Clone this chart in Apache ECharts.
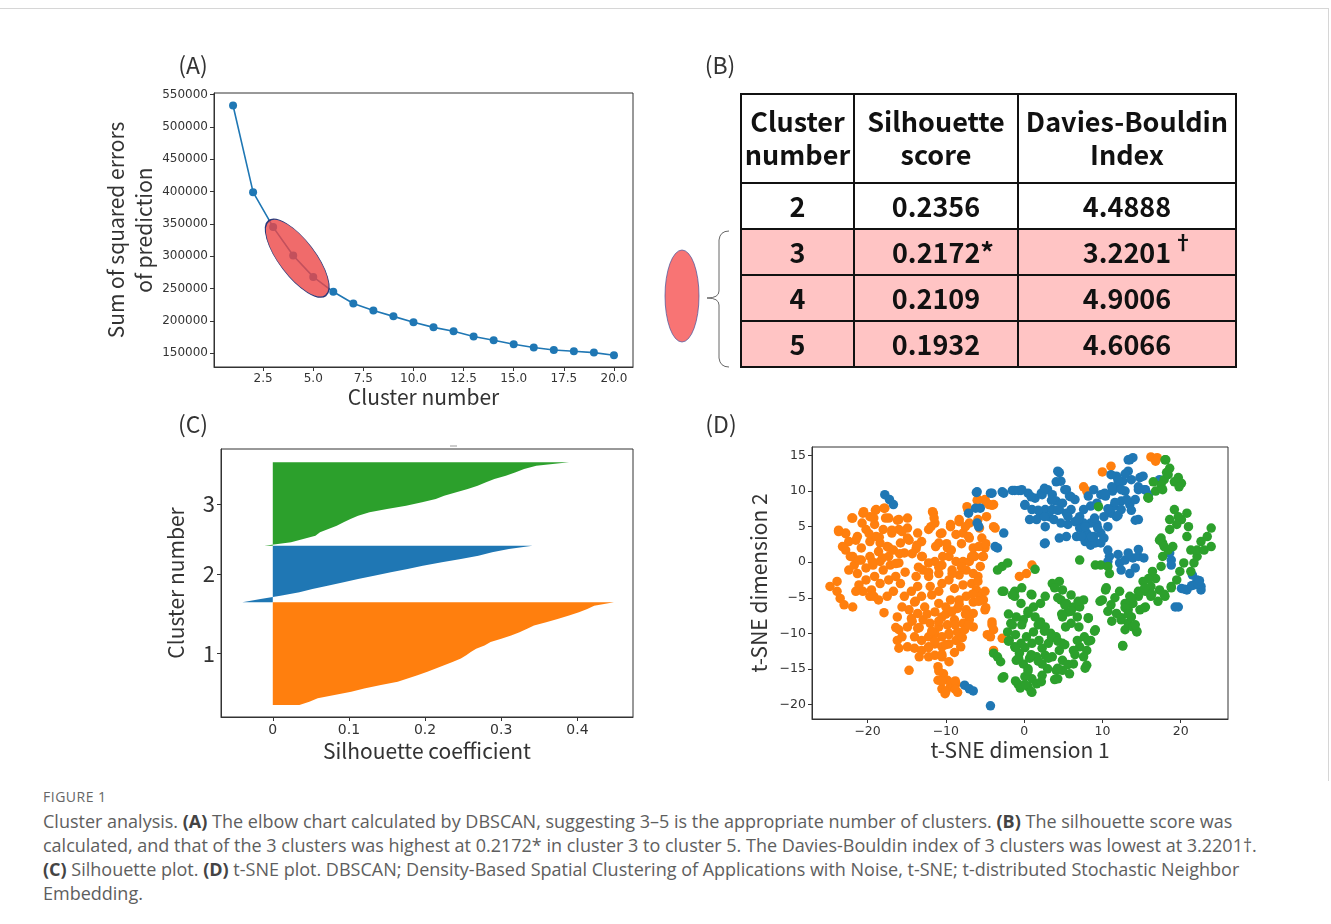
<!DOCTYPE html>
<html>
<head>
<meta charset="utf-8">
<script src="https://cdn.jsdelivr.net/npm/echarts@6/dist/echarts.min.js"></script>
<style>
body{margin:0;background:#fff;}
#frame{position:absolute;left:0;top:8px;width:1328px;height:772px;border-top:1px solid #d6d6d6;border-right:1px solid #d6d6d6;}
#chart{position:absolute;left:0;top:0;width:1331px;height:780px;}
#caption{position:absolute;left:43px;top:785px;font-family:"Open Sans",sans-serif;color:#5e5e5e;font-size:18px;line-height:24px;white-space:nowrap;}
#caption .fig{font-size:14px;letter-spacing:0.5px;color:#666;}
#caption b{color:#444;}
</style>
</head>
<body>
<div id="frame"></div>
<div id="chart"></div>
<div id="caption">
<div class="fig">FIGURE 1</div>
<div>Cluster analysis. <b>(A)</b> The elbow chart calculated by DBSCAN, suggesting 3–5 is the appropriate number of clusters. <b>(B)</b> The silhouette score was</div>
<div>calculated, and that of the 3 clusters was highest at 0.2172* in cluster 3 to cluster 5. The Davies-Bouldin index of 3 clusters was lowest at 3.2201†.</div>
<div><b>(C)</b> Silhouette plot. <b>(D)</b> t-SNE plot. DBSCAN; Density-Based Spatial Clustering of Applications with Noise, t-SNE; t-distributed Stochastic Neighbor</div>
<div>Embedding.</div>
</div>
<script>
// (A) elbow chart
var elbowK = [1,2,3,4,5,6,7,8,9,10,11,12,13,14,15,16,17,18,19,20];
var elbowSSE = [533000,399000,345000,301000,268000,245000,227000,216000,207000,198000,190000,184000,176000,170000,164000,159000,155000,153000,151000,147000];
var elbowTicksX = [2.5,5,7.5,10,12.5,15,17.5,20];
var elbowTicksY = [150000,200000,250000,300000,350000,400000,450000,500000,550000];
var elbowHighlight = [4.2, 297000]; // centre of the red ellipse (k 3-5)

// (B) table
var tableHead = ['Cluster\nnumber', 'Silhouette\nscore', 'Davies-Bouldin\nIndex'];
var tableRows = [
  ['2', '0.2356', '4.4888'],
  ['3', '0.2172*', '3.2201'],
  ['4', '0.2109', '4.9006'],
  ['5', '0.1932', '4.6066']
];
var tablePink = [false, true, true, true];

// (C) silhouette plot, sorted values per cluster (bottom -> top)
var silLabels = ['1', '2', '3'];
var silSizes = [400, 221, 325];
var silCluster1 = [0.035,0.048,0.059,0.081,0.103,0.120,0.142,0.164,0.177,0.190,0.203,0.214,0.225,0.236,0.247,0.254,0.260,0.267,0.278,0.286,0.300,0.313,0.324,0.334,0.343,0.359,0.374,0.389,0.402,0.413,0.422,0.448];
var silCluster2 = [-0.040,-0.016,0.010,0.035,0.052,0.072,0.093,0.112,0.133,0.155,0.177,0.197,0.222,0.247,0.270,0.288,0.310,0.341];
var silCluster3 = [-0.011,0.024,0.040,0.056,0.062,0.073,0.084,0.093,0.102,0.112,0.127,0.150,0.175,0.196,0.214,0.225,0.241,0.256,0.269,0.280,0.291,0.306,0.319,0.330,0.346,0.389];
var silTicksX = [0, 0.1, 0.2, 0.3, 0.4];

// (D) t-SNE
var tsneOrange = [
[-24.8,-3.4],[-23.9,-4.1],[-23.9,-2.7],[-23.5,-5.1],[-23.0,-6.0],[-21.9,-6.3],[-23.7,4.3],[-22.8,4.1],[-21.9,6.2],[-20.6,6.9],[-19.7,6.4],[-18.9,7.4],[-17.8,7.6],[-17.3,6.2],[-16.0,6.0],[-14.9,6.2],[-14.9,4.8],[-16.0,4.6],[-16.9,4.1],[-18.0,4.6],[-19.1,5.3],[-20.2,4.6],[-21.3,3.6],[-22.4,2.9],[-22.8,1.7],[-21.9,0.8],[-20.8,2.0],[-19.7,2.9],[-18.9,3.6],[-18.4,2.7],[-17.5,2.2],[-18.6,1.5],[-19.7,0.8],[-20.8,0.3],[-21.7,-0.4],[-22.4,-1.1],[-21.3,-1.6],[-20.2,-0.8],[-19.3,-0.4],[-18.4,0.1],[-17.3,0.8],[-16.7,1.7],[-15.8,2.7],[-14.9,3.4],[-15.3,1.3],[-16.0,-0.1],[-17.1,-0.4],[-18.0,-1.1],[-19.1,-2.0],[-20.2,-2.5],[-21.1,-3.2],[-20.6,-4.1],[-19.5,-3.9],[-18.4,-3.0],[-17.3,-2.5],[-16.4,-2.0],[-15.8,-3.0],[-16.7,-4.1],[-17.5,-4.8],[-18.6,-5.3],[-19.7,-4.8],[-15.3,-4.8],[-14.4,-4.1],[-14.0,-5.6],[-14.7,-6.7],[-15.6,-6.3],[-16.2,-7.7],[-16.0,-9.5],[-16.2,-11.0],[-16.0,-12.1],[-15.6,-10.5],[-14.9,-9.1],[-14.4,-7.9],[-13.6,-7.2],[-12.7,-6.3],[-13.1,-4.8],[-13.6,-3.4],[-13.8,-2.0],[-12.9,-1.1],[-12.2,-2.0],[-12.0,-3.4],[-11.8,-4.6],[-10.9,-4.1],[-10.5,-3.0],[-10.9,-1.6],[-10.5,-0.4],[-11.4,0.1],[-12.2,-0.1],[-13.1,0.8],[-13.8,1.9],[-13.1,2.9],[-13.6,4.1],[-12.2,4.6],[-11.6,6.9],[-11.4,5.5],[-10.5,4.1],[-10.9,2.7],[-9.8,2.0],[-9.6,0.8],[-8.7,0.1],[-7.8,0.1],[-7.0,0.1],[-6.3,0.8],[-6.5,2.0],[-7.0,3.4],[-7.8,4.1],[-8.7,3.9],[-9.4,5.3],[-8.3,6.0],[-7.2,7.4],[-7.0,5.5],[-5.9,6.0],[-5.9,8.8],[-5.0,8.8],[-4.5,8.1],[-3.9,8.1],[-4.8,6.4],[-5.7,4.8],[-5.4,3.4],[-5.0,2.0],[-5.2,0.8],[-5.6,-0.6],[-5.9,-2.0],[-6.5,-1.6],[-7.4,-1.1],[-8.3,-1.8],[-9.2,-1.1],[-9.6,-2.5],[-8.9,-3.7],[-7.8,-3.2],[-6.7,-3.0],[-6.1,-3.9],[-5.6,-4.8],[-6.5,-5.6],[-7.4,-4.8],[-8.3,-5.3],[-9.4,-5.3],[-10.0,-6.3],[-10.9,-5.8],[-11.4,-7.0],[-10.5,-7.7],[-9.4,-7.0],[-8.5,-6.5],[-7.4,-6.7],[-6.5,-7.2],[-7.0,-8.1],[-7.8,-8.6],[-8.9,-8.1],[-9.8,-8.8],[-10.9,-9.1],[-12.0,-8.6],[-12.9,-8.1],[-13.6,-9.3],[-14.0,-10.5],[-13.1,-11.0],[-12.2,-10.5],[-11.4,-10.0],[-10.5,-10.5],[-9.6,-10.0],[-8.5,-9.8],[-7.6,-9.5],[-6.5,-9.1],[-5.0,-6.7],[-5.2,-5.3],[-5.0,-4.1],[-5.9,-2.7],[-14.9,-11.9],[-14.0,-12.1],[-13.1,-12.4],[-12.2,-11.9],[-11.4,-11.5],[-10.5,-11.9],[-9.6,-11.5],[-8.7,-11.0],[-8.1,-11.9],[-10.5,-13.3],[-11.4,-13.1],[-12.2,-13.3],[-13.4,-13.3],[-11.0,-14.7],[-10.3,-15.7],[-11.0,-16.6],[-10.5,-17.8],[-10.1,-18.5],[-9.4,-17.5],[-8.7,-17.1],[-8.5,-18.3],[-9.8,-16.6],[-14.7,-15.2],[-9.6,-14.0],[-8.9,-12.7],[-4.1,-8.4],[-3.9,-9.5],[-4.3,-10.5],[-3.9,-12.4],[-2.8,-10.7],[-3.7,4.8],[7.6,10.6],[8.0,10.0],[10.0,12.7],[11.1,13.5],[16.2,14.8],[17.0,14.7],[16.8,14.2],[-0.6,-2.0],[0.3,-1.6],[1.0,-0.4],
[-21.5,-4.1],[-19.2,-4.8],[-17.9,-7.1],[-16.4,-9.2],[-14.3,-8.3],[-13.9,-5.5],[-12.4,-7.3],[-13.4,-9.2],[-12.2,-12.0],[-11.4,-11.1],[-11.8,-9.7],[-10.9,-8.3],[-10.0,-7.3],[-9.2,-6.9],[-8.3,-5.9],[-7.5,-7.3],[-7.1,-8.8],[-8.8,-8.8],[-9.6,-10.2],[-10.0,-11.6],[-10.5,-13.0],[-10.9,-15.3],[-10.5,-16.7],[-10.0,-18.2],[-8.8,-16.7],[-8.8,-17.9],[-7.9,-10.6],[-6.6,-4.5],[-5.8,-5.5],[-4.9,-6.4],[-4.1,-8.8],[-4.7,-10.2],
[-7.3,7.8],[-6.0,8.7],[-4.9,8.5],[-4.1,8.0],[-3.9,5.0],
[-22.0,6.2],[-20.5,7.1],[-19.0,7.3],[-17.9,7.6],[-20.7,5.5],[-19.2,6.2],[-17.7,6.2],[-16.2,5.9],[-16.9,4.5],[-15.6,4.3],[-14.7,3.1],[-13.7,2.4],[-11.7,7.1],[-11.5,6.2],[-11.9,5.0],[-10.7,4.0],[-9.4,5.0],[-8.3,5.7],[-7.5,5.0],[-7.1,3.6],[-8.0,2.6],[-9.3,1.7],[-10.4,0.8],[-9.9,2.6],[-11.3,2.2],[-13.0,0.8],[-14.3,1.2],[-15.9,1.2],[-17.3,2.1],[-18.5,3.5],[-19.8,4.0],[-21.5,3.1],[-22.8,4.0],[-23.7,4.5],[-23.2,2.2],[-22.2,0.8],[-21.1,0.3],[-19.4,0.1],[-18.1,0.6],[-16.4,-0.2],[-15.2,-1.4],[-13.5,-0.7],[-12.2,-1.4],[-10.9,-0.7],[-9.2,-1.6],[-8.0,-0.7],[-6.7,0.8],[-5.8,2.2],[-4.9,2.6],[-5.3,0.8]
];
var tsneBlue = [
[-17.8,9.5],[-17.2,8.8],[-16.7,8.1],[-6.1,9.8],[-4.1,9.7],[-2.6,9.7],[-1.2,10.1],[-0.4,10.1],[0.5,9.7],[0.1,8.1],[1.0,7.4],[2.1,6.9],[2.7,7.4],[1.4,9.0],[2.3,9.5],[3.0,10.2],[3.6,9.5],[4.5,12.6],[4.7,11.4],[5.4,10.2],[4.1,8.6],[4.9,8.3],[5.8,9.3],[6.5,8.8],[6.0,7.4],[5.4,6.9],[4.5,7.4],[3.6,7.4],[3.2,6.4],[3.8,6.0],[4.7,5.5],[5.6,5.3],[6.5,5.7],[7.1,6.4],[7.6,7.4],[8.5,7.9],[9.3,8.3],[8.2,9.3],[8.9,10.2],[9.8,9.5],[10.4,9.3],[11.3,10.0],[12.0,10.7],[12.6,11.4],[13.3,12.8],[13.5,14.4],[13.9,14.7],[12.9,10.0],[12.4,8.6],[11.5,7.9],[11.1,6.9],[11.8,6.4],[12.4,7.4],[13.5,8.1],[14.2,8.8],[14.6,10.2],[14.8,11.9],[13.7,11.6],[11.8,12.1],[11.1,12.3],[14.6,6.0],[15.5,10.2],[15.9,9.5],[17.3,11.6],
[7.1,4.8],[8.0,4.1],[8.9,3.6],[9.8,4.1],[9.3,5.3],[8.5,5.5],[7.8,2.9],[8.5,2.4],[9.1,2.7],[9.8,2.7],[7.6,5.5],[6.7,3.6],[5.4,3.6],[4.5,3.4],[2.7,2.7],[2.7,5.0],[1.6,6.0],[0.7,6.0],[10.2,6.4],[10.7,5.0],[10.2,3.4],[-2.6,4.1],[-3.4,2.0],[-7.1,6.9],[-6.2,7.6],[-5.6,7.6],[-6.0,5.5],[-5.8,5.0],[-6.0,9.9],[-4.3,9.7],[-2.8,9.9],[-1.5,10.1],[-0.7,10.1],[-3.7,2.2],
[10.9,0.8],[10.7,0.1],[12.2,-0.1],[12.9,0.3],[13.9,0.6],[14.6,0.8],[15.3,0.6],[12.4,-1.1],[13.5,-1.6],[14.2,-0.8],[18.8,0.3],[18.8,-0.4],[21.5,-1.8],[22.1,-2.5],[22.6,-3.4],[21.7,-3.2],[20.8,-3.9],[20.1,-3.7],[22.6,-3.9],[19.3,-6.3],[19.7,-6.3],[20.5,-3.8],[21.4,-3.3],[22.2,-3.1],[22.4,-2.6],
[-7.6,-17.3],[-7.0,-17.8],[-6.5,-18.1],[-4.3,-20.2],
[-0.3,10.2],[0.1,8.0],[0.9,9.2],[2.2,9.7],[2.6,10.4],[4.3,12.8],[4.1,11.3],[5.2,10.2],[6.0,9.2],[3.5,8.7],[4.3,7.3],[2.6,6.4],[1.8,7.3],[5.6,6.4],[6.9,6.0],[7.8,5.0],[7.3,3.6],[8.6,3.6],[9.4,4.8],[9.0,6.2],[10.3,9.7],[11.2,10.6],[12.0,11.5],[12.9,12.4],[13.3,14.4],[12.4,10.2],[11.6,8.4],[10.7,7.5],[12.0,6.6],[13.7,7.3],[14.2,5.9],[13.1,8.8],[14.6,10.6],[15.4,10.2],[15.2,12.1],[2.6,2.6],[10.7,1.7],[12.0,1.1],[13.3,1.3],[14.6,1.8],[18.6,1.3]
];
var tsneGreen = [
[-3.4,-1.1],[-2.8,-0.6],[-2.1,-0.1],[1.4,-1.0],[-2.6,-4.1],[-1.2,-4.1],[-1.2,-4.8],[-0.4,-5.8],[1.0,-4.6],[1.2,-6.3],[2.1,-5.8],[2.7,-4.8],[3.6,-3.0],[4.5,-2.7],[4.9,-3.9],[4.7,-5.3],[5.4,-5.8],[6.0,-4.6],[6.3,-6.3],[5.6,-7.0],[4.9,-7.7],[6.8,-7.7],[7.1,-6.3],[7.6,-5.3],[8.2,-7.9],[9.1,-9.5],[8.5,-11.0],[8.0,-12.4],[7.6,-13.3],[8.0,-14.5],[7.1,-11.9],[6.8,-11.0],[6.3,-12.4],[6.3,-14.3],[5.8,-15.7],[4.9,-15.2],[4.3,-16.4],[4.9,-13.8],[4.5,-12.4],[4.9,-11.4],[4.1,-10.5],[3.4,-10.0],[2.7,-9.1],[2.1,-8.4],[1.4,-7.7],[0.5,-7.2],[-0.1,-8.1],[-1.0,-7.7],[-1.7,-8.6],[-2.1,-9.8],[-1.9,-11.0],[-1.2,-11.9],[-0.6,-12.8],[-1.0,-13.8],[-0.1,-14.3],[0.7,-13.5],[0.5,-15.0],[1.0,-16.4],[0.1,-16.1],[-0.8,-17.1],[0.5,-17.5],[1.0,-18.3],[1.6,-17.1],[2.3,-15.9],[3.0,-15.0],[2.3,-14.3],[1.6,-13.3],[2.3,-12.1],[3.1,-11.4],[3.6,-13.3],[2.7,-13.1],[1.0,-11.4],[0.3,-10.5],[-0.4,-11.4],[1.2,-9.8],[1.9,-11.0],[4.1,-15.2],[5.3,-9.1],[6.0,-8.6],[7.0,-9.1],[7.7,-10.5],[-2.6,-16.1],[-3.9,-12.8],[-3.4,-13.3],[-3.0,-14.0],[7.1,0.3],[9.1,-0.4],[9.8,-0.4],[10.7,-0.6],[10.9,-1.6],[10.0,-5.3],[10.4,-3.9],[11.1,-6.0],[11.8,-7.2],[12.4,-8.1],[12.9,-9.5],[12.6,-11.7],[13.3,-8.6],[13.9,-9.1],[14.4,-9.8],[13.7,-7.7],[13.3,-6.7],[13.9,-5.8],[14.6,-4.8],[13.5,-4.8],[12.9,-5.8],[12.2,-4.1],[15.5,-4.1],[16.2,-3.4],[16.8,-2.3],[15.9,-2.3],[15.2,-2.7],[16.4,-1.3],[17.5,-0.6],[17.7,0.8],[18.4,1.7],[17.7,2.7],[17.5,3.4],[17.3,-3.9],[18.0,-4.8],[16.2,-4.8],[14.8,-6.7],[15.5,-6.3],[18.8,-3.4],[19.5,-2.5],[19.9,-1.3],[20.4,-0.1],[21.3,-1.3],[21.7,-0.1],[22.1,0.8],[22.1,1.7],[22.6,2.9],[23.4,3.6],[23.9,4.8],[23.9,2.2],[23.0,1.7],[21.3,1.7],[20.8,3.6],[21.0,5.0],[20.1,6.0],[19.7,6.4],[19.2,7.4],[20.8,6.9],[19.5,5.3],[18.6,6.0],[17.3,3.1],[17.9,2.2],[19.0,2.2],[18.6,4.6],[17.9,11.6],[18.4,12.3],[18.1,14.4],[18.6,13.2],[19.7,11.9],[20.1,11.1],[17.5,10.9],[16.8,10.0],[15.9,9.0],[9.5,7.8],[18.0,14.4],[18.2,12.6],[19.2,11.3],[19.8,10.6],[17.7,10.2],[16.5,11.3],[15.8,9.1],
[-2.8,-4.1],[-1.5,-4.6],[-2.0,-7.3],[-1.5,-8.8],[-1.1,-10.2],[-2.0,-11.1],[-1.1,-12.0],[-0.7,-13.5],[-2.8,-16.3],[-1.1,-16.7],[-0.5,-17.7],
[-0.3,-3.6],[0.9,-4.5],[0.5,-6.9],[-0.3,-8.8],[1.8,-8.8],[2.6,-9.7],[3.5,-10.6],[4.3,-11.1],[5.2,-11.6],[3.9,-3.6],[4.3,-5.0],[5.2,-6.0],[6.0,-6.9],[4.8,-7.3],[6.9,-5.5],[8.2,-7.8],[9.0,-9.7],[8.2,-11.1],[7.8,-14.9],[6.5,-13.0],[5.6,-14.4],[4.3,-14.9],[3.9,-16.5],[2.2,-16.8],[0.9,-18.2],[0.1,-17.2],[0.5,-15.3],[1.8,-13.9],[0.1,-12.0],[0.9,-13.0],[3.1,-13.5],[10.5,-3.6],[11.6,-5.0],[9.7,-5.5],[10.7,-6.9],[11.2,-8.3],[12.4,-7.8],[12.9,-6.4],[13.7,-5.0],[14.6,-4.1],[15.4,-3.6],[16.3,-4.5],[17.1,-5.5],[17.9,-4.5],[18.8,-3.6],[15.4,-6.4],[13.3,-7.3],[14.4,-9.7],[12.6,-11.8],[14.2,-8.8]
];
var tsneTicksX = [-20, -10, 0, 10, 20];
var tsneTicksY = [-20, -15, -10, -5, 0, 5, 10, 15];

var blue = '#1f77b4', orange = '#ff7f0e', green = '#2ca02c';
var jp = '"Noto Sans CJK JP", sans-serif';
var tick = '"DejaVu Sans", sans-serif';

var silValues = [silCluster1, silCluster2, silCluster3];
var silColors = [orange, blue, green];
var silStarts = [];
var acc = 47;
for (var i = 0; i < silSizes.length; i++) { silStarts.push(acc); acc += silSizes[i]; }
var silCenters = silStarts.map(function (s, i) { return s + silSizes[i] / 2; });

function renderSil(params, api) {
    var i = params.dataIndex;
    var vals = silValues[i];
    var y0 = silStarts[i], n = silSizes[i];
    var pts = [api.coord([0, y0])];
    for (var j = 0; j < vals.length; j++) {
        pts.push(api.coord([vals[j], y0 + n * j / (vals.length - 1)]));
    }
    pts.push(api.coord([0, y0 + n]));
    return { type: 'polygon', shape: { points: pts }, style: { fill: silColors[i] } };
}

function minus(v) { return v < 0 ? '\u2212' + (-v) : '' + v; }

function axisStyle(size) {
    return {
        axisLine: { show: true, onZero: false, lineStyle: { color: '#333', width: 1 } },
        axisTick: { show: true, length: 4, lineStyle: { color: '#333' } },
        splitLine: { show: false },
        axisLabel: { color: '#333', fontFamily: tick, fontSize: size, margin: 6 },
        nameTextStyle: { color: '#333', fontFamily: jp, fontSize: 21 }
    };
}
function mk(base, extra) {
    var o = axisStyle(base);
    for (var k in extra) {
        if (typeof extra[k] === 'object' && o[k]) {
            for (var m in extra[k]) o[k][m] = extra[k][m];
        } else o[k] = extra[k];
    }
    return o;
}

var chart = echarts.init(document.getElementById('chart'));

var option = {
    animation: false,
    grid: [
        { left: 214, top: 93, width: 419, height: 274, show: true, borderColor: '#333', borderWidth: 1 },
        { left: 221, top: 449, width: 412, height: 268, show: true, borderColor: '#333', borderWidth: 1 },
        { left: 812, top: 447, width: 416, height: 272, show: true, borderColor: '#333', borderWidth: 1 }
    ],
    xAxis: [
        mk(12, { type: 'value', gridIndex: 0, min: 0.05, max: 20.95,
            name: 'Cluster number', nameLocation: 'middle', nameGap: 20,
            axisTick: { customValues: elbowTicksX },
            axisLabel: { customValues: elbowTicksX, formatter: function (v) { return v.toFixed(1); } } }),
        mk(14, { type: 'value', gridIndex: 1, min: -0.068, max: 0.473,
            name: 'Silhouette coefficient', nameLocation: 'middle', nameGap: 24,
            axisTick: { customValues: silTicksX },
            axisLabel: { customValues: silTicksX, formatter: function (v) { return v === 0 ? '0' : v.toFixed(1); } } }),
        mk(12.5, { type: 'value', gridIndex: 2, min: -27.1, max: 26.05,
            name: 't-SNE dimension 1', nameLocation: 'middle', nameGap: 21,
            axisTick: { customValues: tsneTicksX },
            axisLabel: { customValues: tsneTicksX, formatter: minus } })
    ],
    yAxis: [
        mk(12, { type: 'value', gridIndex: 0, min: 128750, max: 552250,
            name: 'Sum of squared errors\nof prediction', nameLocation: 'middle', nameGap: 51,
            nameTextStyle: { lineHeight: 28 },
            axisTick: { customValues: elbowTicksY },
            axisLabel: { customValues: elbowTicksY, formatter: function (v) { return String(v); } } }),
        mk(22, { type: 'value', gridIndex: 1, min: 0, max: 1045,
            name: 'Cluster number', nameLocation: 'middle', nameGap: 34,
            axisTick: { customValues: silCenters },
            axisLabel: { customValues: silCenters, fontFamily: jp, formatter: function (v) { return silLabels[silCenters.indexOf(v)]; } } }),
        mk(12.5, { type: 'value', gridIndex: 2, min: -22.05, max: 16.2,
            name: 't-SNE dimension 2', nameLocation: 'middle', nameGap: 42,
            axisTick: { customValues: tsneTicksY },
            axisLabel: { customValues: tsneTicksY, formatter: minus } })
    ],
    series: [
        { type: 'line', xAxisIndex: 0, yAxisIndex: 0,
          data: elbowK.map(function (k, i) { return [k, elbowSSE[i]]; }),
          symbol: 'circle', symbolSize: 8, showSymbol: true,
          lineStyle: { color: blue, width: 1.6 }, itemStyle: { color: blue } },
        { type: 'custom', xAxisIndex: 1, yAxisIndex: 1, renderItem: renderSil,
          data: silCenters.map(function (c) { return [0, c]; }) },
        { type: 'scatter', xAxisIndex: 2, yAxisIndex: 2, data: tsneOrange, symbolSize: 9.5, itemStyle: { color: orange, opacity: 1 } },
        { type: 'scatter', xAxisIndex: 2, yAxisIndex: 2, data: tsneBlue, symbolSize: 9.5, itemStyle: { color: blue, opacity: 1 } },
        { type: 'scatter', xAxisIndex: 2, yAxisIndex: 2, data: tsneGreen, symbolSize: 9.5, itemStyle: { color: green, opacity: 1 } }
    ]
};
chart.setOption(option);

// graphics: panel labels, table (B), ellipse overlays
var g = [];
[['(A)', 193, 65], ['(B)', 720, 65], ['(C)', 193, 424], ['(D)', 721, 424]].forEach(function (p) {
    g.push({ type: 'text', x: p[1], y: p[2], z: 10,
        style: { text: p[0], fontFamily: jp, fontSize: 23, fill: '#333', align: 'center', verticalAlign: 'middle' } });
});
// tiny mark above panel C
g.push({ type: 'line', shape: { x1: 450, y1: 446, x2: 457, y2: 446 }, style: { stroke: '#999', lineWidth: 1 } });

var colX = [741, 854, 1018, 1236];
var rowY = [94, 183, 229, 275, 321, 367];
tableRows.forEach(function (r, i) {
    if (tablePink[i]) {
        g.push({ type: 'rect', shape: { x: colX[0], y: rowY[i + 1], width: colX[3] - colX[0], height: rowY[i + 2] - rowY[i + 1] },
            style: { fill: '#ffc4c4' } });
    }
});
for (var c = 0; c < 3; c++) {
    g.push({ type: 'text', x: (colX[c] + colX[c + 1]) / 2, y: (rowY[0] + rowY[1]) / 2, z: 5,
        style: { text: tableHead[c], fontFamily: jp, fontWeight: 'bold', fontSize: 27, lineHeight: 33, fill: '#111', align: 'center', verticalAlign: 'middle' } });
    tableRows.forEach(function (r, i) {
        var dx = (c === 1 && r[c].indexOf('*') >= 0) ? 7 : 0;
        g.push({ type: 'text', x: (colX[c] + colX[c + 1]) / 2 + dx, y: (rowY[i + 1] + rowY[i + 2]) / 2 + 1, z: 5,
            style: { text: r[c], fontFamily: jp, fontWeight: 'bold', fontSize: 27, fill: '#111', align: 'center', verticalAlign: 'middle' } });
    });
}
g.push({ type: 'text', x: 1183, y: 242, z: 5, style: { text: '\u2020', fontFamily: jp, fontWeight: 'bold', fontSize: 20, fill: '#111', align: 'center', verticalAlign: 'middle' } });
colX.forEach(function (x) {
    g.push({ type: 'line', z: 6, shape: { x1: x, y1: rowY[0], x2: x, y2: rowY[rowY.length - 1] }, style: { stroke: '#111', lineWidth: 2 } });
});
rowY.forEach(function (y) {
    g.push({ type: 'line', z: 6, shape: { x1: colX[0] - 1, y1: y, x2: colX[3] + 1, y2: y }, style: { stroke: '#111', lineWidth: 2 } });
});

// curly bracket beside the table (rows 3-5)
var br = { stroke: '#666', lineWidth: 1, fill: null };
g.push({ type: 'bezierCurve', z: 6, shape: { x1: 729, y1: 231, cpx1: 720, cpy1: 231, x2: 719, y2: 240 }, style: br });
g.push({ type: 'line', z: 6, shape: { x1: 719, y1: 240, x2: 719, y2: 291 }, style: br });
g.push({ type: 'bezierCurve', z: 6, shape: { x1: 719, y1: 291, cpx1: 719, cpy1: 298, x2: 707, y2: 298 }, style: br });
g.push({ type: 'bezierCurve', z: 6, shape: { x1: 707, y1: 298, cpx1: 719, cpy1: 298, x2: 719, y2: 305 }, style: br });
g.push({ type: 'line', z: 6, shape: { x1: 719, y1: 305, x2: 719, y2: 358 }, style: br });
g.push({ type: 'bezierCurve', z: 6, shape: { x1: 719, y1: 358, cpx1: 720, cpy1: 367, x2: 729, y2: 367 }, style: br });
// red ellipse beside the bracket (circle scaled into an ellipse)
g.push({ type: 'circle', z: 6, x: 682, y: 296, scaleX: 17 / 46, scaleY: 1,
    shape: { cx: 0, cy: 0, r: 46 },
    style: { fill: '#f87474', stroke: '#3d4f9a', lineWidth: 1, strokeNoScale: true } });

// red ellipse over k = 3..5 in (A)
var ctr = chart.convertToPixel({ gridIndex: 0 }, elbowHighlight);
g.push({ type: 'circle', z: 20, x: ctr[0], y: ctr[1], rotation: -0.92, scaleX: 1, scaleY: 18 / 47,
    shape: { cx: 0, cy: 0, r: 47 },
    style: { fill: 'rgba(236,70,70,0.8)', stroke: '#2b3a7a', lineWidth: 1, strokeNoScale: true } });

chart.setOption({ graphic: g });
</script>
</body>
</html>
